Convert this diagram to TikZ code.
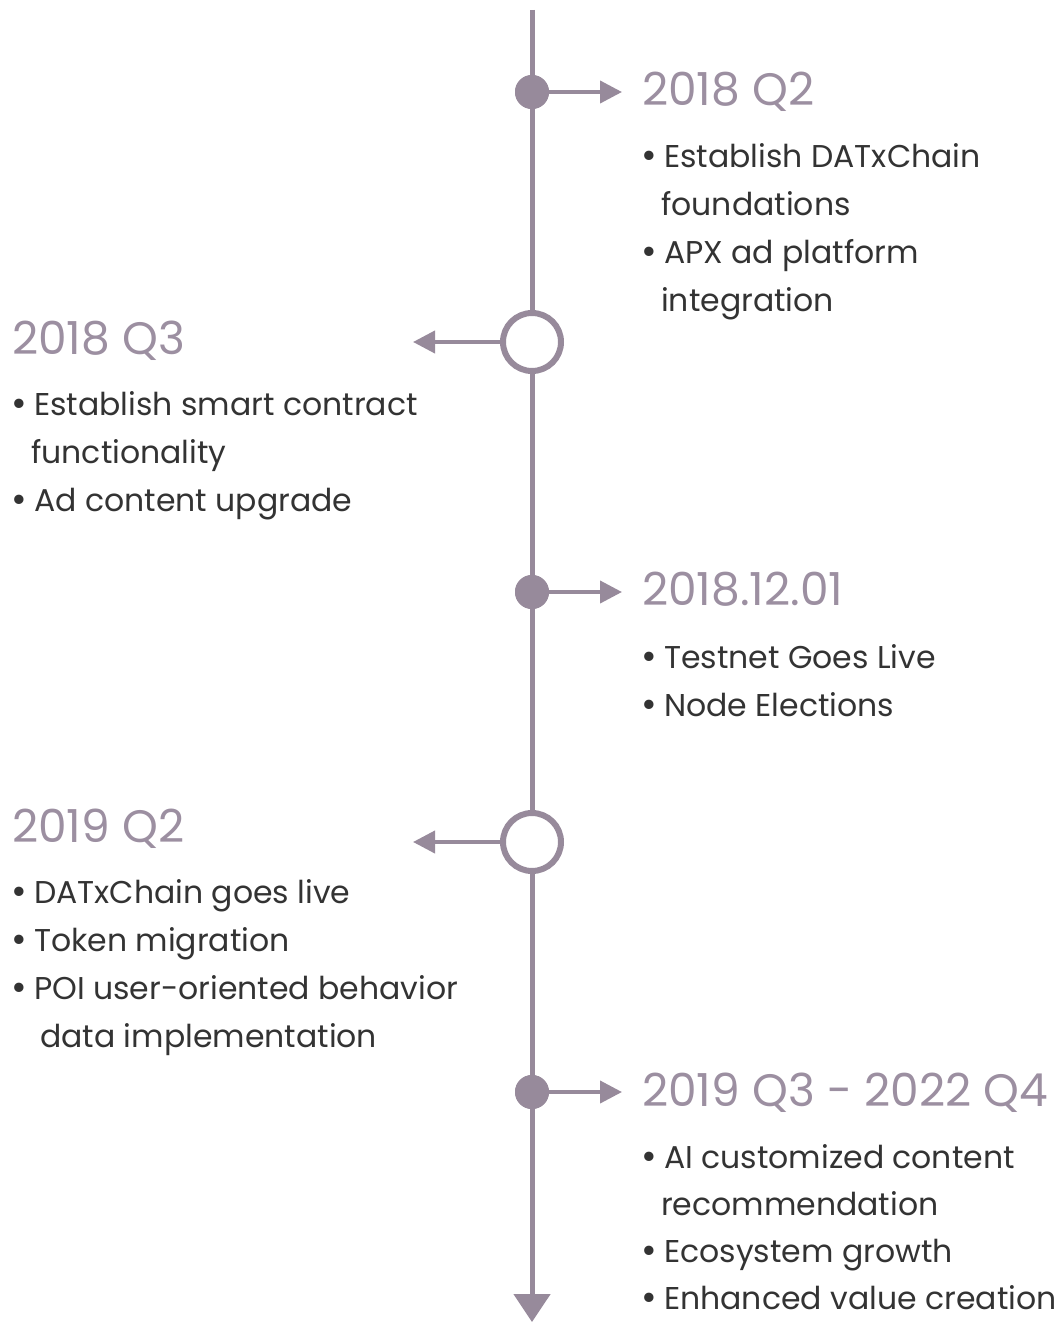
\documentclass[tikz,border=0pt]{standalone}
\usepackage{fontspec}
\setmainfont{Poppins}
\usetikzlibrary{arrows.meta}
\definecolor{spine}{HTML}{978A9B}
\definecolor{head}{HTML}{9C8FA1}
\definecolor{body}{HTML}{333333}
\tikzset{
  dotfill/.style={circle, fill=spine, minimum size=34pt, inner sep=0pt},
  ringnode/.style={circle, draw=spine, line width=6pt, fill=white, minimum size=58pt, inner sep=0pt},
  pointer/.style={line width=4pt, draw=spine, -{Triangle[length=22pt,width=22pt]}},
  yearlabel/.style={anchor=base west, inner sep=0pt, text=head, font=\fontsize{45.5}{45.5}\selectfont},
  itemtext/.style={anchor=base west, inner sep=0pt, text=body, font=\fontsize{31.5}{31.5}\selectfont},
  bulletmark/.style={anchor=base west, inner sep=0pt, text=body, font=\fontsize{38}{38}\selectfont},
}
\begin{document}
\begin{tikzpicture}[x=1pt,y=-1pt]
  \useasboundingbox (0,0) rectangle (1064,1322);
  % spine
  \coordinate (top) at (532,10);
  \coordinate (bottom) at (532,1322);
  \draw[line width=5pt, draw=spine, -{Triangle[length=28pt,width=36pt]}] (top) -- (bottom);

  % milestones on the spine
  \node[dotfill] (m1) at (532,92) {};
  \node[ringnode] (m2) at (532,342) {};
  \node[dotfill] (m3) at (532,592) {};
  \node[ringnode] (m4) at (532,842) {};
  \node[dotfill] (m5) at (532,1092) {};

  \coordinate (p1) at (622,92);
  \coordinate (p2) at (413,342);
  \coordinate (p3) at (622,592);
  \coordinate (p4) at (413,842);
  \coordinate (p5) at (622,1092);
  \draw[pointer] (m1.center) -- (p1);
  \draw[pointer] (m2.west) -- (p2);
  \draw[pointer] (m3.center) -- (p3);
  \draw[pointer] (m4.west) -- (p4);
  \draw[pointer] (m5.center) -- (p5);
  \node[dotfill] at (532,92) {};
  \node[dotfill] at (532,592) {};
  \node[dotfill] at (532,1092) {};

  % 2018 Q2
  \node[yearlabel] (y1) at (642,105) {2018 Q2};
  \node[bulletmark] (b11) at (641,168) {•};
  \node[itemtext] (t11) at (664,167) {Establish DATxChain};
  \node[itemtext] (t12) at (661,215) {foundations};
  \node[bulletmark] (b12) at (641,264) {•};
  \node[itemtext] (t13) at (664,263) {APX ad platform};
  \node[itemtext] (t14) at (661,311) {integration};

  % 2018 Q3
  \node[yearlabel] (y2) at (12,354) {2018 Q3};
  \node[bulletmark] (b21) at (11,416) {•};
  \node[itemtext] (t21) at (34,415) {Establish smart contract};
  \node[itemtext] (t22) at (31,463) {functionality};
  \node[bulletmark] (b22) at (11,512) {•};
  \node[itemtext] (t23) at (34,511) {Ad content upgrade};

  % 2018.12.01
  \node[yearlabel] (y3) at (642,605) {2018.12.01};
  \node[bulletmark] (b31) at (641,669) {•};
  \node[itemtext] (t31) at (664,668) {Testnet Goes Live};
  \node[bulletmark] (b32) at (641,717) {•};
  \node[itemtext] (t32) at (664,716) {Node Elections};

  % 2019 Q2
  \node[yearlabel] (y4) at (12,842) {2019 Q2};
  \node[bulletmark] (b41) at (11,904) {•};
  \node[itemtext] (t41) at (34,903) {DATxChain goes live};
  \node[bulletmark] (b42) at (11,952) {•};
  \node[itemtext] (t42) at (34,951) {Token migration};
  \node[bulletmark] (b43) at (11,1000) {•};
  \node[itemtext] (t43) at (34,999) {POI user-oriented behavior};
  \node[itemtext] (t44) at (40,1047) {data implementation};

  % 2019 Q3 - 2022 Q4
  \node[yearlabel] (y5) at (642,1106) {2019 Q3 - 2022 Q4};
  \node[bulletmark] (b51) at (641,1169) {•};
  \node[itemtext] (t51) at (664,1168) {AI customized content};
  \node[itemtext] (t52) at (661,1215) {recommendation};
  \node[bulletmark] (b52) at (641,1263) {•};
  \node[itemtext] (t53) at (664,1262) {Ecosystem growth};
  \node[bulletmark] (b53) at (641,1310) {•};
  \node[itemtext] (t54) at (664,1309) {Enhanced value creation};
\end{tikzpicture}
\end{document}
